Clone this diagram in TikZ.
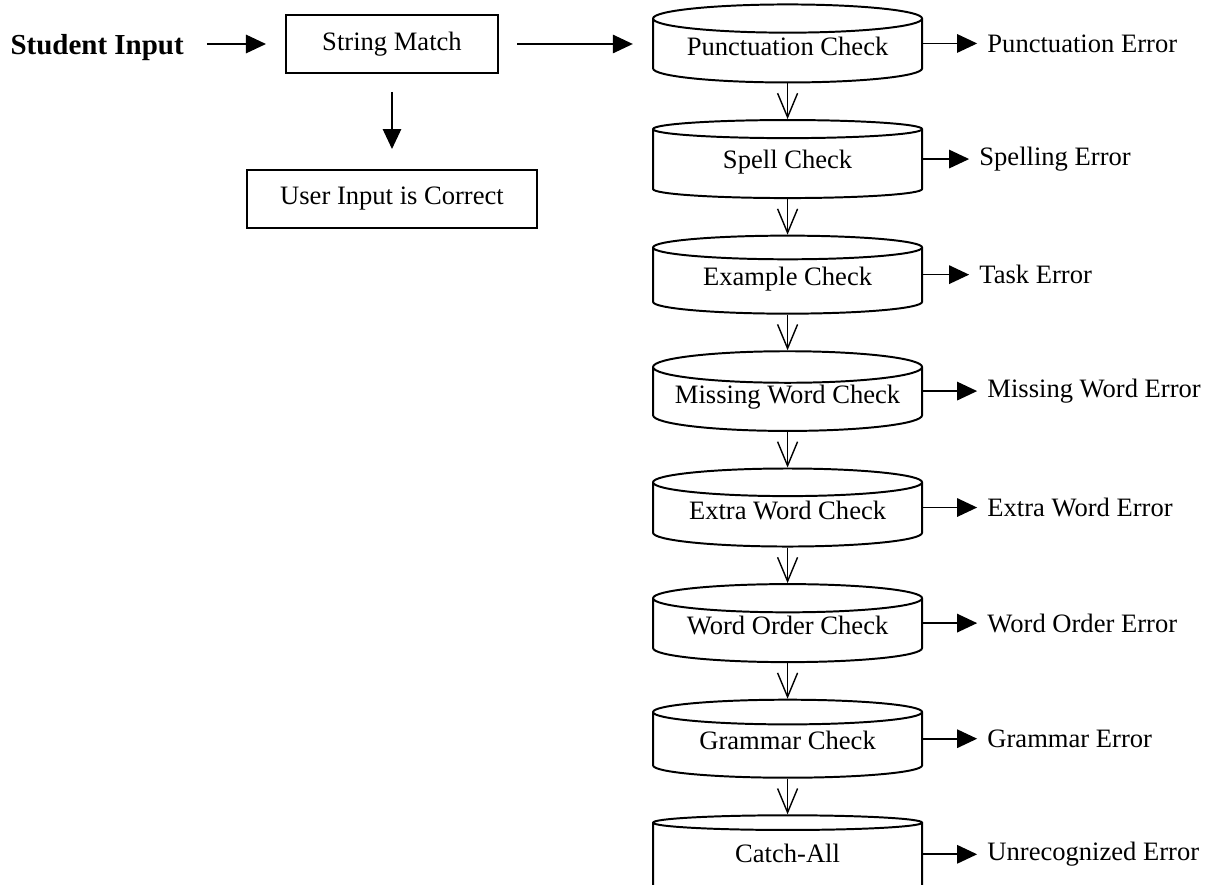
\documentclass[tikz,border=0pt]{standalone}
\usepackage{fontspec}
\setmainfont{Liberation Serif}
\usetikzlibrary{shapes.geometric,arrows.meta,positioning}

\tikzset{
  procbox/.style={draw, line width=1.4pt, minimum height=1.45cm, inner sep=0pt, font=\fontsize{18.9}{22}\selectfont},
  checkdb/.style={cylinder, shape border rotate=90, draw, line width=1.4pt, aspect=0.14, minimum width=6.725cm, minimum height=1.95cm, inner sep=0pt, text height=0.5cm, text depth=0.285cm, font=\fontsize{18.9}{22}\selectfont},
  errlabel/.style={inner sep=0pt, anchor=west, font=\fontsize{18.9}{22}\selectfont},
  mainarrow/.style={line width=1.2pt, -{Triangle[length=5mm,width=4.6mm]}, shorten <=0.45cm, shorten >=0.48cm},
  downarrow/.style={line width=1pt, -{Straight Barb[length=6mm,width=5mm]}},
  errarrow/.style={line width=1.2pt, -{Triangle[length=5mm,width=4.6mm]}, shorten >=0.25cm}
}

\begin{document}
\begin{tikzpicture}[x=0.025cm, y=-0.025cm]
        \useasboundingbox (0,0) rectangle (1212,885);

        \node[procbox, minimum width=5.3cm] (match) at (392,44) {String Match};
        \node[inner sep=0pt, text height=0.69cm, font=\fontsize{20.6}{24}\selectfont\bfseries] (student) [left = 2.525cm of match] {Student Input};
        \node[procbox, minimum width=7.225cm] (correct) [below = 2.375cm of match] {User Input is Correct};

        \node[checkdb, yshift=-0.175cm] (punct) [right = 3.825cm of match] {Punctuation Check};
        \node[checkdb] (spell) [below = 0.89cm of punct] {Spell Check};
        \node[checkdb] (example) [below = 0.89cm of spell] {Example Check};
        \node[checkdb] (missing) [below = 0.89cm of example] {Missing Word Check};
        \node[checkdb] (extra) [below = 0.89cm of missing] {Extra Word Check};
        \node[checkdb] (order) [below = 0.89cm of extra] {Word Order Check};
        \node[checkdb] (grammar) [below = 0.89cm of order] {Grammar Check};
        \node[checkdb] (catchall) [below = 0.89cm of grammar] {Catch-All};

        \node[errlabel, xshift=1.6cm] (punct_err) at (punct.shape center -| punct.east) {Punctuation Error};
        \node[errlabel, xshift=1.4cm] (spell_err) at (spell.shape center -| spell.east) {Spelling Error};
        \node[errlabel, xshift=1.4cm] (example_err) at (example.shape center -| example.east) {Task Error};
        \node[errlabel, xshift=1.6cm] (missing_err) at (missing.shape center -| missing.east) {Missing Word Error};
        \node[errlabel, xshift=1.6cm] (extra_err) at (extra.shape center -| extra.east) {Extra Word Error};
        \node[errlabel, xshift=1.6cm] (order_err) at (order.shape center -| order.east) {Word Order Error};
        \node[errlabel, xshift=1.6cm] (grammar_err) at (grammar.shape center -| grammar.east) {Grammar Error};
        \node[errlabel, xshift=1.6cm] (catchall_err) at (catchall.shape center -| catchall.east) {Unrecognized Error};

        % input side
        \draw[mainarrow, shorten <=0.575cm, shorten >=0.475cm] (student) -- (match);
        \draw[mainarrow] (match) -- (match -| punct.west);
        \draw[mainarrow, shorten >=0.5cm] (match) -- (correct);

        % chain of checks
        \draw[downarrow] (punct) -- (spell);
        \draw[downarrow] (spell) -- (example);
        \draw[downarrow] (example) -- (missing);
        \draw[downarrow] (missing) -- (extra);
        \draw[downarrow] (extra) -- (order);
        \draw[downarrow] (order) -- (grammar);
        \draw[downarrow] (grammar) -- (catchall);

        % errors
        \draw[errarrow] (punct.shape center -| punct.east) -- (punct_err);
        \draw[errarrow] (spell.shape center -| spell.east) -- (spell_err);
        \draw[errarrow] (example.shape center -| example.east) -- (example_err);
        \draw[errarrow] (missing.shape center -| missing.east) -- (missing_err);
        \draw[errarrow] (extra.shape center -| extra.east) -- (extra_err);
        \draw[errarrow] (order.shape center -| order.east) -- (order_err);
        \draw[errarrow] (grammar.shape center -| grammar.east) -- (grammar_err);
        \draw[errarrow] (catchall.shape center -| catchall.east) -- (catchall_err);
\end{tikzpicture}
\end{document}
